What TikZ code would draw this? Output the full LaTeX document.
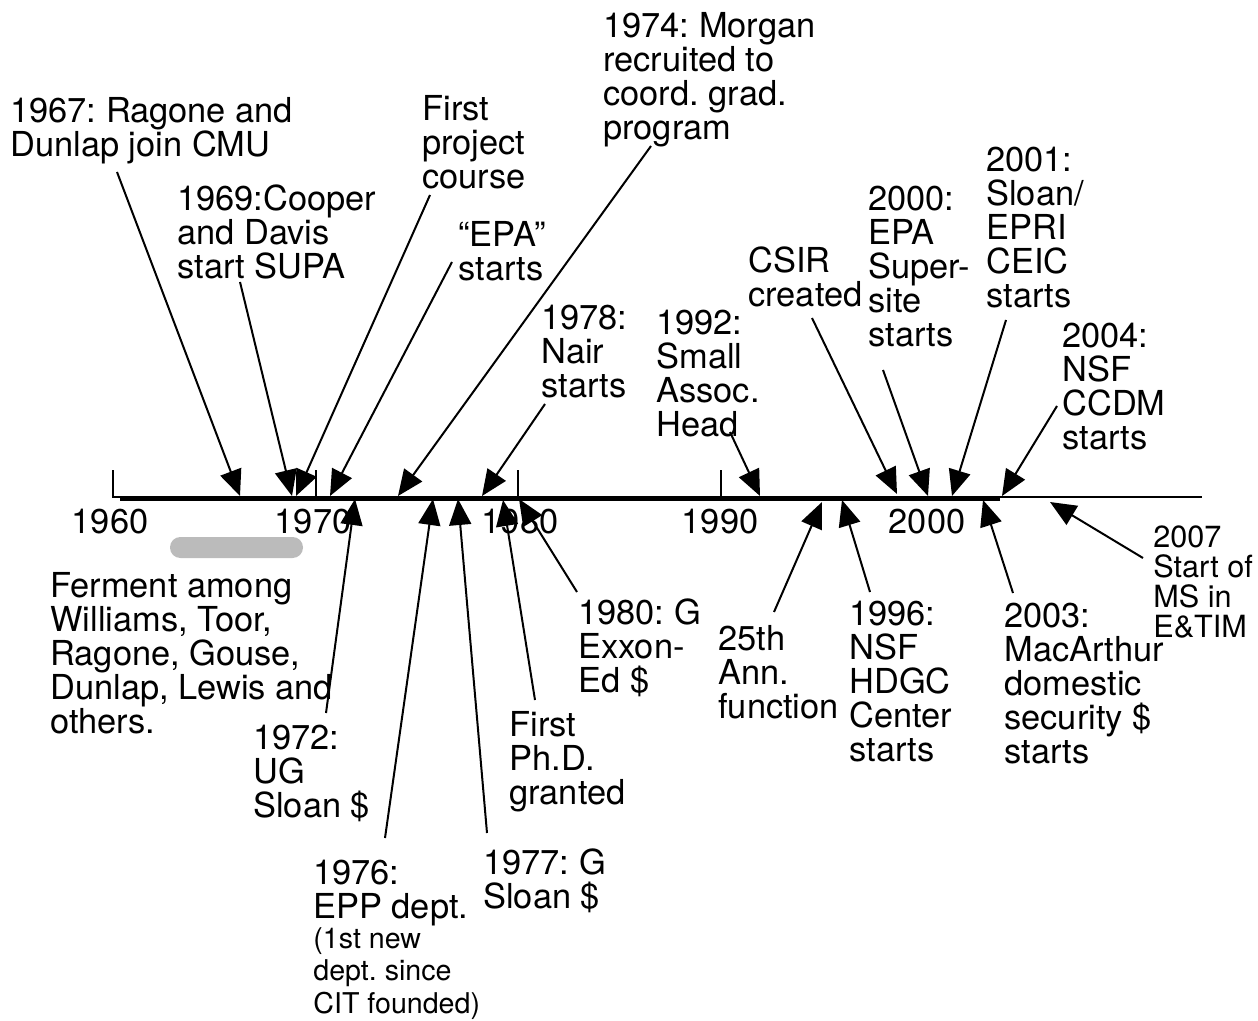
\documentclass[tikz,border=0pt]{standalone}
\usepackage{fontspec}
\setmainfont{TeX Gyre Heros}
\usepackage{tikz}
\usetikzlibrary{arrows.meta,calc}
\definecolor{fermentgray}{RGB}{187,187,187}
\frenchspacing

\begin{document}
\begin{tikzpicture}[
    x=0.5pt,y=-0.5pt,
    event/.style={anchor=north west,inner sep=0pt,align=left,
                  font=\fontsize{17.2}{17}\selectfont},
    eventsm/.style={event,font=\fontsize{14.3}{16.3}\selectfont},
    eventmd/.style={event,font=\fontsize{15.3}{15}\selectfont},
    year/.style={inner sep=0pt,font=\fontsize{17.2}{17}\selectfont},
    pointer/.style={-{Triangle[length=13pt,width=11pt]},line width=1pt}
]
\useasboundingbox (0,0) rectangle (1258,1021);

% years under the axis
\node[year] (y60) at (110,522) {1960};
\node[year] (y70) at (313,522) {1970};
\node[year] (y80) at (520,522) {1980};
\node[year] (y90) at (720,522) {1990};
\node[year] (y00) at (927,522) {2000};

% axis and ticks
\draw[line width=1pt] (113,470) -- (113,497) -- (1202,497);
\foreach \xt in {316,518,721}
    \draw[line width=1pt] (\xt,470) -- (\xt,497);
\draw[line width=2pt] (120,498.5) -- (1000,498.5);

% ferment period
\fill[fermentgray,rounded corners=5.2pt] (170,537) rectangle (303,558);

% events above the axis
\node[event] (l67) at (10,97) {1967: Ragone and\\Dunlap join CMU};
\node[event] (l69) at (177,184) {1969:Cooper\\and Davis\\start SUPA};
\node[event] (lproj) at (422,95) {First\\project\\course};
\node[event] (lepa) at (458,221) {“EPA”\\starts};
\node[event] (l74) at (603,12) {1974: Morgan\\recruited to\\coord. grad.\\program};
\node[event] (l78) at (541,305) {1978:\\Nair\\starts};
\node[event] (l92) at (656,310) {1992:\\Small\\Assoc.\\Head};
\node[event] (lcsir) at (748,246) {CSIR\\created};
\node[event] (l00) at (868,186) {2000:\\EPA\\Super-\\site\\starts};
\node[event] (l01) at (986,147) {2001:\\Sloan/\\EPRI\\CEIC\\starts};
\node[event] (l04) at (1062,323) {2004:\\NSF\\CCDM\\starts};

% events below the axis
\node[event] (ferment) at (50,572) {Ferment among\\Williams, Toor,\\Ragone, Gouse,\\Dunlap, Lewis and\\others.};
\node[event] (l72) at (253,725) {1972:\\UG\\Sloan \$};
\node[event] (l76) at (313,860) {1976:\\EPP dept.};
\node[eventsm] (l76note) at (313,927) {(1st new\\dept. since\\CIT founded)};
\node[event] (l77) at (483,848) {1977: G\\Sloan \$};
\node[event] (lphd) at (509,711) {First\\Ph.D.\\granted};
\node[event] (l80) at (578,598) {1980: G\\Exxon-\\Ed \$};
\node[event] (l25) at (718,625) {25th\\Ann.\\function};
\node[event] (l96) at (849,601) {1996:\\NSF\\HDGC\\Center\\starts};
\node[event] (l03) at (1004,603) {2003:\\MacArthur\\domestic\\security \$\\starts};
\node[eventmd] (l07) at (1153,525) {2007\\Start of\\MS in\\E\&TIM};

% points on the axis
\coordinate (t67) at (240,496);
\coordinate (t69) at (292,496);
\coordinate (tproj) at (296,496);
\coordinate (tepa) at (330,496);
\coordinate (t74) at (398,496);
\coordinate (t78) at (482,496);
\coordinate (t92) at (760,496);
\coordinate (tcsir) at (897,494);
\coordinate (t00) at (928,496);
\coordinate (t01) at (952,496);
\coordinate (t04) at (1002,496);
\coordinate (t72) at (355,499);
\coordinate (t76) at (433,499);
\coordinate (t77) at (458,499);
\coordinate (tphd) at (503,500);
\coordinate (t80) at (519,499);
\coordinate (t25) at (822,502);
\coordinate (t96) at (842,500);
\coordinate (t03) at (983,500);
\coordinate (t07) at (1050,502);

% pointers
\draw[pointer] ($(l67.north west)+(107,75)$) -- (t67);
\draw[pointer] ($(l69.north west)+(63,98)$) -- (t69);
\draw[pointer] ($(lproj.north west)+(8,100)$) -- (tproj);
\draw[pointer] ($(lepa.north west)+(-6,41)$) -- (tepa);
\draw[pointer] ($(l74.north west)+(48,134)$) -- (t74);
\draw[pointer] ($(l78.north west)+(4,99)$) -- (t78);
\draw[pointer] ($(l92.north west)+(74,122)$) -- (t92);
\draw[pointer] ($(lcsir.north west)+(64,72)$) -- (tcsir);
\draw[pointer] ($(l00.north west)+(15,184)$) -- (t00);
\draw[pointer] ($(l01.north west)+(20,173)$) -- (t01);
\draw[pointer] ($(l04.north west)+(-5,83)$) -- (t04);
\draw[pointer] ($(l72.north west)+(73,-12)$) -- (t72);
\draw[pointer] ($(l76.north west)+(72,-22)$) -- (t76);
\draw[pointer] ($(l77.north west)+(4,-15)$) -- (t77);
\draw[pointer] ($(lphd.north west)+(26,-11)$) -- (tphd);
\draw[pointer] ($(l80.north west)+(-1,-6)$) -- (t80);
\draw[pointer] ($(l25.north west)+(56,-13)$) -- (t25);
\draw[pointer] ($(l96.north west)+(21,-9)$) -- (t96);
\draw[pointer] ($(l03.north west)+(9,-10)$) -- (t03);
\draw[pointer] ($(l07.north west)+(-10,33)$) -- (t07);
\end{tikzpicture}
\end{document}
